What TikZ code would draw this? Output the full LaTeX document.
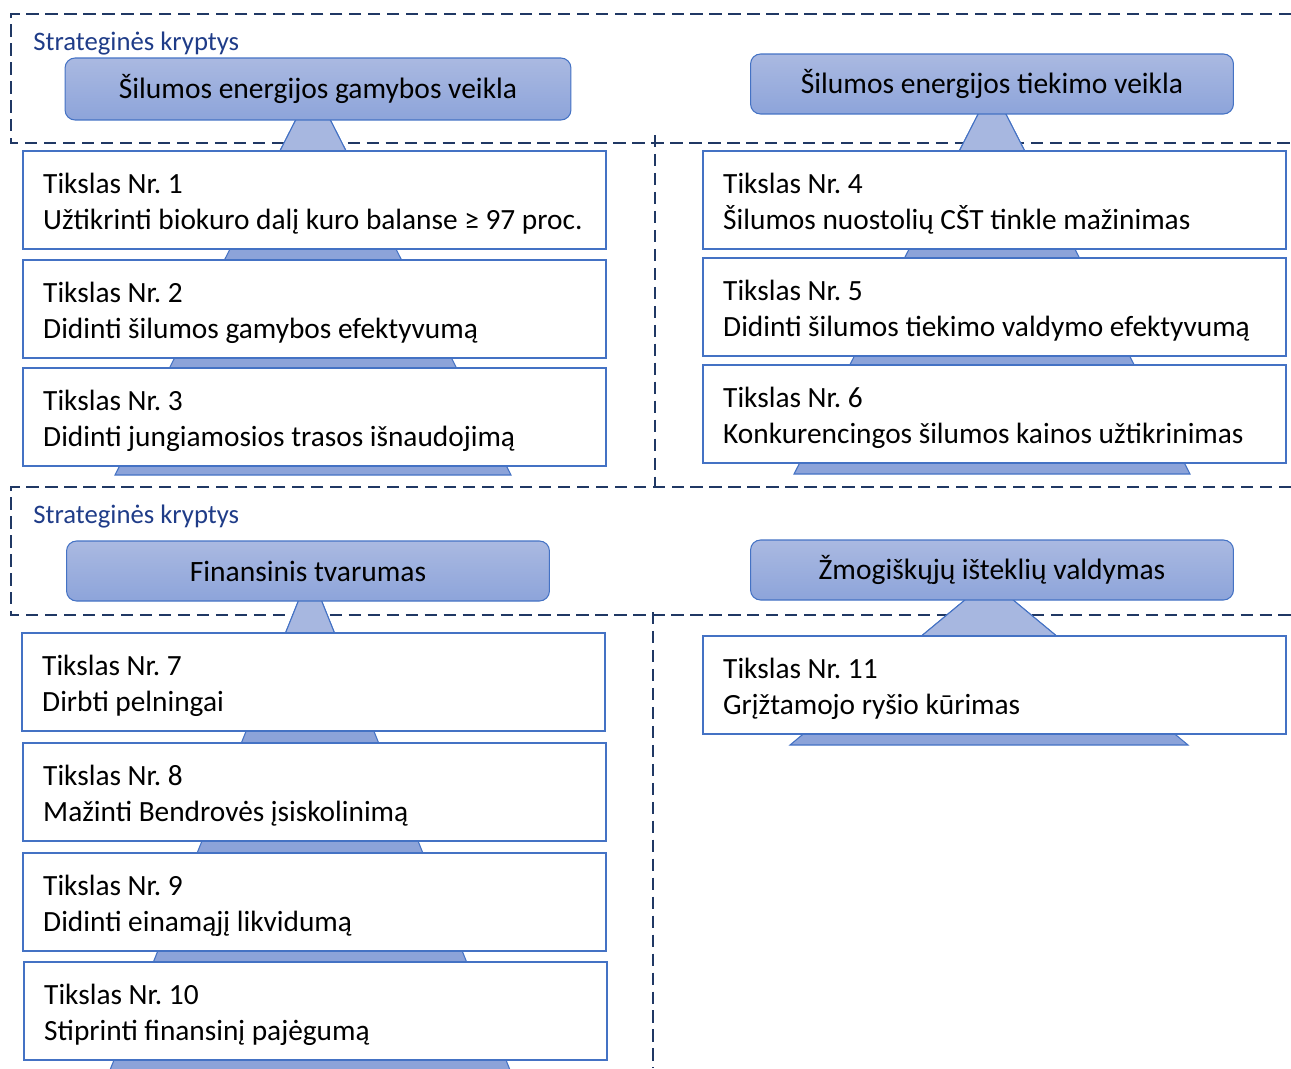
\documentclass[tikz,border=0pt]{standalone}
\usepackage{fontspec}
\setmainfont{Carlito}
\usetikzlibrary{backgrounds}
\definecolor{frameblue}{HTML}{203864}
\definecolor{lineblue}{HTML}{4472C4}
\definecolor{headtop}{HTML}{AAB9E1}
\definecolor{headbot}{HTML}{8DA4DA}
\definecolor{pyrlight}{HTML}{A7B7E0}
\definecolor{pyrdark}{HTML}{8CA3D9}
\definecolor{labelblue}{HTML}{1F3C88}
\frenchspacing
\newcommand{\goaltext}[2]{\spaceskip=0pt\relax Tikslas Nr. #1\\ #2}

\begin{document}
\begin{tikzpicture}[x=0.02cm, y=-0.02cm,
    frame/.style={frameblue, line width=1.5pt, dash pattern=on 7pt off 3.8pt},
    head/.style={rectangle, rounded corners=0.2cm, draw=lineblue, line width=0.6pt,
        top color=headtop, bottom color=headbot, minimum width=9.66cm, minimum height=1.2cm,
        font=\fontsize{16.8}{19}\selectfont},
    goal/.style={rectangle, draw=lineblue, line width=1.4pt, fill=white, anchor=north west,
        text width=10.86cm, inner xsep=0.4cm, minimum height=1.96cm, align=left,
        text depth=19.3pt, font=\fontsize{16.7}{20.4}\selectfont},
    kryptys/.style={anchor=west, inner sep=0pt, text=labelblue, font=\fontsize{15.2}{17}\selectfont},
    pyr/.style={draw=lineblue, line width=0.6pt, fill=pyrdark}]
    \useasboundingbox (0,0) rectangle (1291,1068);
    % strategines kryptys
    \node[kryptys] (k1) at (33,44) {Strateginės kryptys};
    \node[kryptys] (k2) at (33,517) {Strateginės kryptys};
    \node[head, minimum width=10.12cm, minimum height=1.24cm] (h1) at (318,89) {Šilumos energijos gamybos veikla};
    \node[head] (h2) at (992,84) {Šilumos energijos tiekimo veikla};
    \node[head] (h3) at (308,571) {Finansinis tvarumas};
    \node[head] (h4) at (992,570) {Žmogiškųjų išteklių valdymas};
    % tikslai
    \foreach \n/\x/\y/\txt in {1/22/150/{Užtikrinti biokuro dalį kuro balanse ≥ 97 proc.},
        2/22/259/{Didinti šilumos gamybos efektyvumą},
        3/22/367/{Didinti jungiamosios trasos išnaudojimą},
        4/702/150/{Šilumos nuostolių CŠT tinkle mažinimas},
        5/702/257/{Didinti šilumos tiekimo valdymo efektyvumą},
        6/702/364/{Konkurencingos šilumos kainos užtikrinimas},
        7/21/632/{Dirbti pelningai},
        8/22/742/{Mažinti Bendrovės įsiskolinimą},
        9/22/852/{Didinti einamąjį likvidumą},
        10/23/961/{Stiprinti finansinį pajėgumą},
        11/702/635/{Grįžtamojo ryšio kūrimas}} {
        \node[goal] (g\n) at (\x,\y) {\goaltext{\n}{\txt}};
    }
    \begin{scope}[on background layer]
        % ramkos
        \draw[frame] (1291,14) -| (11,143) -- (1291,143);
        \draw[frame] (655,135) -- (655,487);
        \draw[frame] (1291,487) -| (11,615) -- (1291,615);
        \draw[frame] (653,612) -- (653,1068);
        % piramides
        \foreach \c/\a/\b/\w/\hd/\gl in {313/86/475/198/h1/g1, 992/87/474/198/h2/g4,
            310/572/1070/200/h3/g7, 989/580/745/199/h4/g11} {
            \draw[pyr] (\c,\a) -- (\c+\w,\b) -- (\c-\w,\b) -- cycle;
            \begin{scope}
                \clip (\hd.south west) rectangle (\gl.north east);
                \draw[pyr, fill=pyrlight] (\c,\a) -- (\c+\w,\b) -- (\c-\w,\b) -- cycle;
            \end{scope}
        }
    \end{scope}
\end{tikzpicture}
\end{document}
